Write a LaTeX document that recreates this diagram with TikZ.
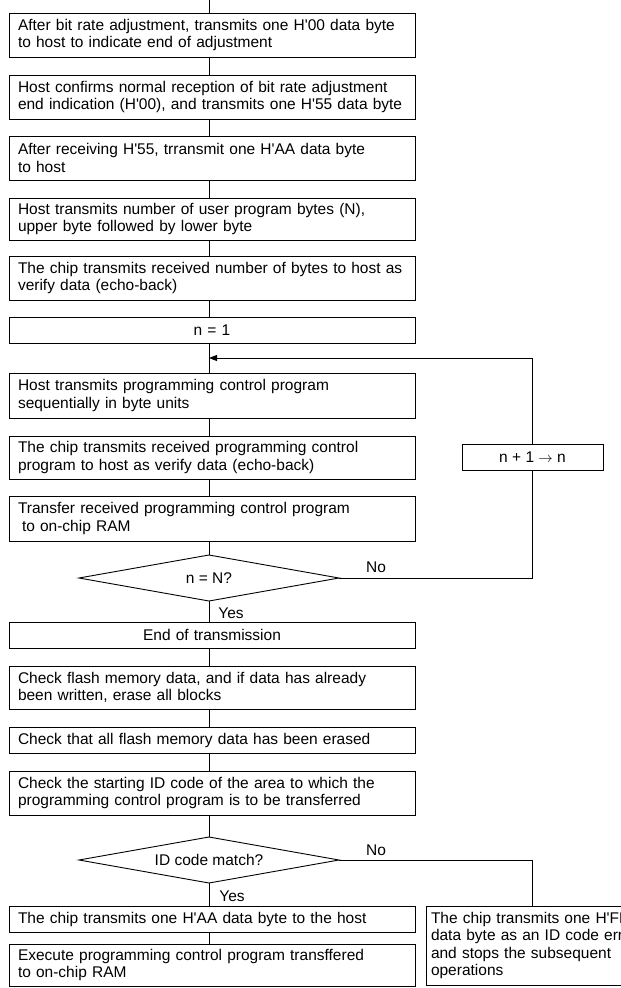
\documentclass[tikz,border=0pt]{standalone}
\usepackage{fontspec}
\setmainfont{Liberation Sans}
\usetikzlibrary{shapes.geometric,arrows.meta}
\newcommand{\hq}{\textquotesingle}
\begin{document}
\begin{tikzpicture}[x=1pt,y=1pt,
  every node/.style={font=\fontsize{15.5pt}{17.5pt}\selectfont, inner sep=0pt, outer sep=0pt},
  stepbox/.style={draw, line width=0.9pt, rectangle, text width=388pt,
    inner xsep=9pt, align=left, minimum height=#1},
  stepbox/.default=44pt,
  decision/.style={draw, line width=0.9pt, diamond, aspect=5.65,
    minimum width=260pt, minimum height=46pt},
  sidebox/.style={draw, line width=0.9pt, rectangle, minimum width=141pt, minimum height=26pt},
  errbox/.style={draw, line width=0.9pt, rectangle, text width=250pt,
    inner xsep=5pt, align=left, minimum height=79pt},
  flow/.style={line width=0.9pt},
  tip/.style={-{Triangle[length=8pt,width=6pt]}}
]
\useasboundingbox (0,0) rectangle (621,-988);
\clip (0,0) rectangle (621,-988);

% spine of the main column and the top entry point
\coordinate (spine) at (209,0);
\coordinate (top) at (209,0);
\coordinate (join) at (209,-358);

% main column of steps
\node[stepbox] (b1) at (212,-35) {After bit rate adjustment, transmits one H\hq00 data byte\\to host to indicate end of adjustment};
\node[stepbox] (b2) at (212,-97) {Host confirms normal reception of bit rate adjustment\\end indication (H\hq00), and transmits one H\hq55 data byte};
\node[stepbox] (b3) at (212,-158) {After receiving H\hq55, trransmit one H\hq AA data byte\\to host};
\node[stepbox=42pt] (b4) at (212,-219) {Host transmits number of user program bytes (N),\\upper byte followed by lower byte};
\node[stepbox] (b5) at (212,-278) {The chip transmits received number of bytes to host as\\verify data (echo-back)};
\node[stepbox=26pt, align=center] (b6) at (212,-330) {n = 1};
\node[stepbox=45pt] (b7) at (212,-395.5) {Host transmits programming control program\\sequentially in byte units};
\node[stepbox=43pt] (b8) at (212,-457.5) {The chip transmits received programming control\\program to host as verify data (echo-back)};
\node[stepbox=45pt] (b9) at (212,-518.5) {Transfer received programming control program\\\hspace*{4pt}to on-chip RAM};
\node[decision] (d1) at (209,-578) {n = N?};
\node[stepbox=26pt, align=center] (b10) at (212,-635) {End of transmission};
\node[stepbox=43pt] (b11) at (212,-687.5) {Check flash memory data, and if data has already\\been written, erase all blocks};
\node[stepbox=26pt] (b12) at (212,-740) {Check that all flash memory data has been erased};
\node[stepbox] (b13) at (212,-793) {Check the starting ID code of the area to which the\\programming control program is to be transferred};
\node[decision] (d2) at (209,-860) {ID code match?};
\node[stepbox=26pt] (b14) at (212,-919) {The chip transmits one H\hq AA data byte to the host};
\node[stepbox=42pt] (b15) at (212,-965) {Execute programming control program transffered\\to on-chip RAM};

% loop counter and error branch
\node[sidebox] (inc) at (532.5,-457) {n + 1 $\rightarrow$ n};
\node[errbox, anchor=west] (err) at (426,-945.5) {The chip transmits one H\hq FF\\data byte as an ID code error\\and stops the subsequent\\operations};

% branch labels
\node (yes1) at (231,-613) {Yes};
\node (no1) at (376,-567) {No};
\node (yes2) at (232,-896) {Yes};
\node (no2) at (376,-850) {No};

% connectors along the main column
\draw[flow] (top) -- (b1.north -| spine);
\draw[flow] (b1.south -| spine) -- (b2.north -| spine);
\draw[flow] (b2.south -| spine) -- (b3.north -| spine);
\draw[flow] (b3.south -| spine) -- (b4.north -| spine);
\draw[flow] (b4.south -| spine) -- (b5.north -| spine);
\draw[flow] (b5.south -| spine) -- (b6.north -| spine);
\draw[flow] (b6.south -| spine) -- (b7.north -| spine);
\draw[flow] (b7.south -| spine) -- (b8.north -| spine);
\draw[flow] (b8.south -| spine) -- (b9.north -| spine);
\draw[flow] (b9.south -| spine) -- (d1.north);
\draw[flow] (d1.south) -- (b10.north -| spine);
\draw[flow] (b10.south -| spine) -- (b11.north -| spine);
\draw[flow] (b11.south -| spine) -- (b12.north -| spine);
\draw[flow] (b12.south -| spine) -- (b13.north -| spine);
\draw[flow] (b13.south -| spine) -- (d2.north);
\draw[flow] (d2.south) -- (b14.north -| spine);
\draw[flow] (b14.south -| spine) -- (b15.north -| spine);

% loop back to the top of the transfer steps
\draw[flow] (d1.east) -| (inc.south);
\draw[flow, tip] (inc.north) |- (join);

% ID code mismatch
\draw[flow] (d2.east) -| (err.north -| inc.south);
\end{tikzpicture}
\end{document}
